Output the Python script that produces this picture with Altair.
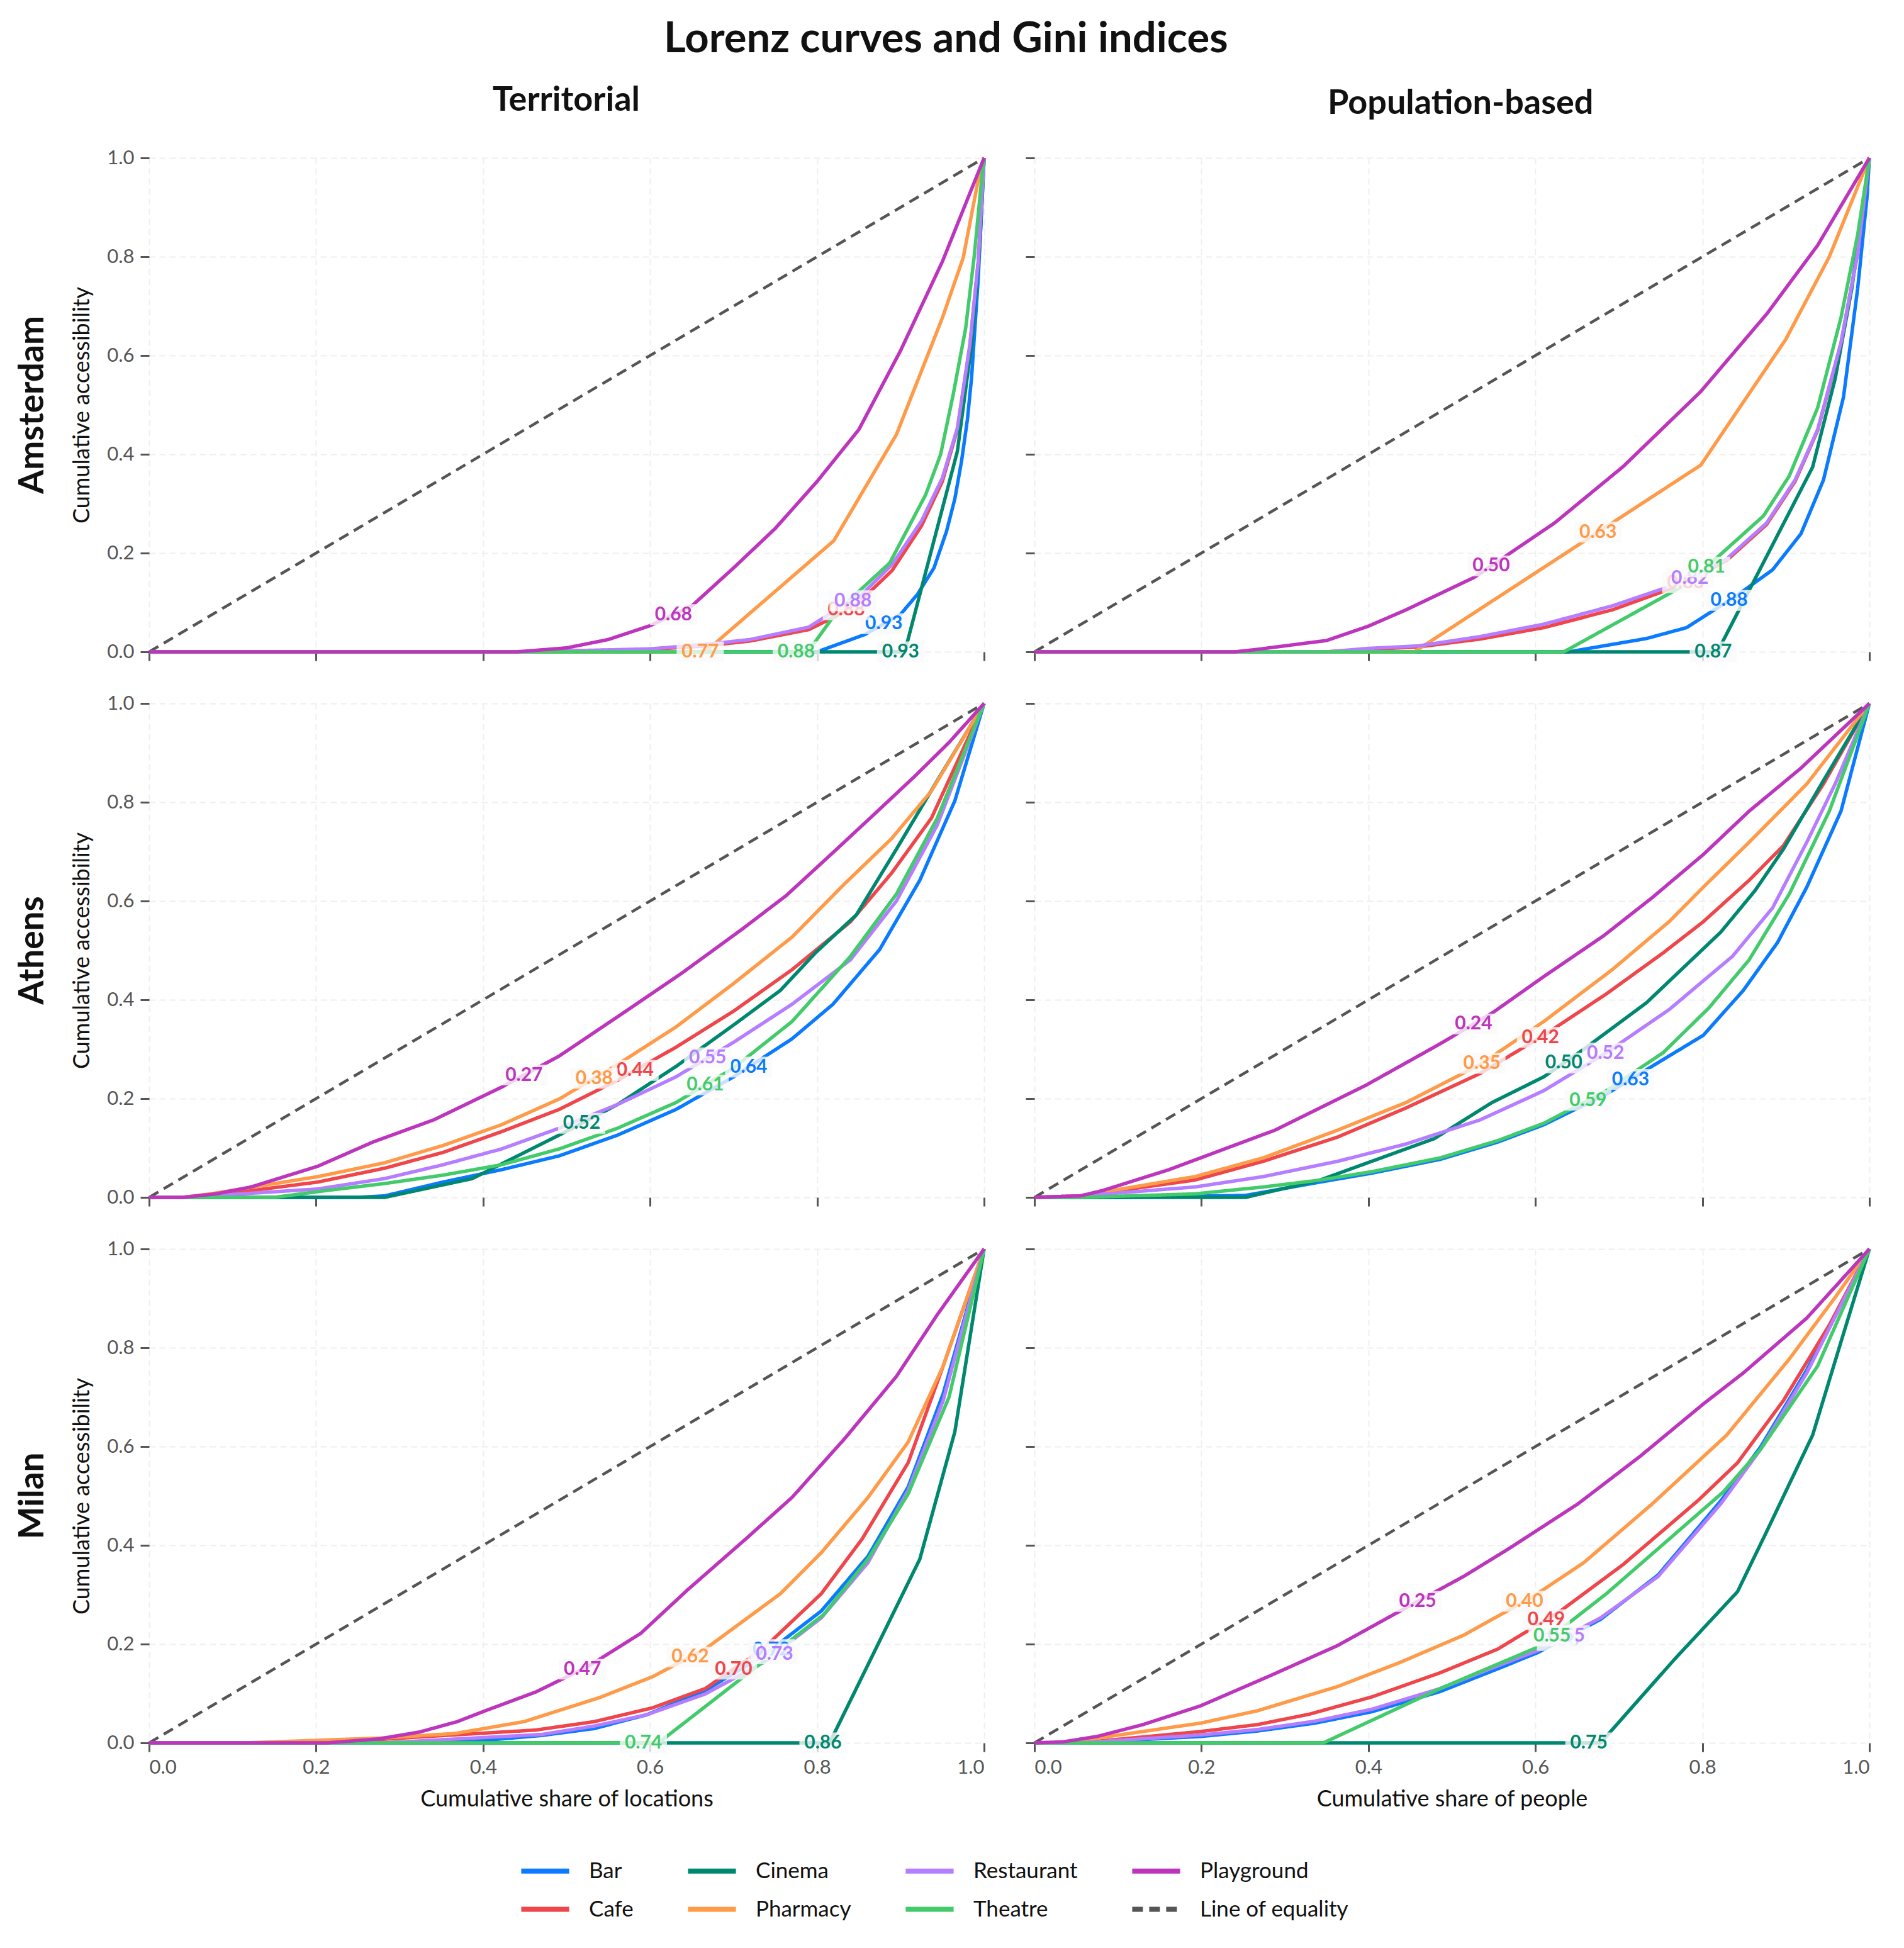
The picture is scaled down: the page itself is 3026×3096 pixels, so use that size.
import altair as alt
import pandas as pd
import numpy as np

SERIES = ["Bar", "Cafe", "Cinema", "Pharmacy", "Restaurant", "Theatre", "Playground"]
COLORS = ["#0A7BFF", "#EF464B", "#00876F", "#FF9A48", "#B57DFF", "#43CB6B", "#BD35BD"]
EQUALITY = "Line of equality"
EQ_COLOR = "#555555"
CITIES = ["Amsterdam", "Athens", "Milan"]
KINDS = ["Territorial", "Population-based"]
X_TITLES = {"Territorial": "Cumulative share of locations",
            "Population-based": "Cumulative share of people"}
TICKS = [0.0, 0.2, 0.4, 0.6, 0.8, 1.0]

# ---- Lorenz curves: series -> (x list, y list) ----
AMS_TER = {
    "Bar": ([0, 0.80, 0.857, 0.90, 0.92, 0.94, 0.955, 0.965, 0.973, 0.98, 0.985, 0.993, 1.0],
            [0, 0, 0.035, 0.076, 0.116, 0.17, 0.244, 0.31, 0.386, 0.47, 0.555, 0.757, 1.0]),
    "Cafe": ([0, 0.45, 0.60, 0.666, 0.72, 0.79, 0.82, 0.85, 0.89, 0.925, 0.95, 0.968, 0.983, 0.993, 1.0],
             [0, 0, 0.005, 0.012, 0.022, 0.045, 0.07, 0.10, 0.165, 0.255, 0.345, 0.45, 0.62, 0.79, 1.0]),
    "Cinema": ([0, 0.905, 0.968, 0.985, 0.995, 1.0],
               [0, 0, 0.406, 0.622, 0.825, 1.0]),
    "Pharmacy": ([0, 0.666, 0.82, 0.895, 0.95, 0.975, 0.995, 1.0],
                 [0, 0, 0.225, 0.44, 0.676, 0.798, 0.973, 1.0]),
    "Restaurant": ([0, 0.45, 0.60, 0.666, 0.72, 0.79, 0.82, 0.85, 0.89, 0.925, 0.95, 0.968, 0.983, 0.993, 1.0],
                   [0, 0, 0.006, 0.015, 0.025, 0.05, 0.082, 0.11, 0.177, 0.265, 0.352, 0.453, 0.622, 0.79, 1.0]),
    "Theatre": ([0, 0.789, 0.824, 0.887, 0.93, 0.948, 0.963, 0.978, 0.988, 0.998, 1.0],
                [0, 0, 0.082, 0.18, 0.318, 0.40, 0.521, 0.656, 0.798, 0.973, 1.0]),
    "Playground": ([0, 0.44, 0.50, 0.55, 0.60, 0.65, 0.70, 0.75, 0.80, 0.85, 0.90, 0.95, 1.0],
                   [0, 0, 0.008, 0.025, 0.053, 0.093, 0.17, 0.25, 0.345, 0.45, 0.61, 0.79, 1.0]),
}
AMS_POP = {
    "Bar": ([0, 0.64, 0.733, 0.781, 0.842, 0.884, 0.918, 0.945, 0.969, 0.986, 0.997, 1.0],
            [0, 0, 0.027, 0.049, 0.115, 0.166, 0.239, 0.348, 0.516, 0.736, 0.918, 1.0]),
    "Cafe": ([0, 0.35, 0.40, 0.46, 0.534, 0.61, 0.692, 0.774, 0.829, 0.877, 0.911, 0.938, 0.966, 0.986, 1.0],
             [0, 0, 0.005, 0.01, 0.026, 0.049, 0.085, 0.135, 0.185, 0.258, 0.345, 0.448, 0.625, 0.808, 1.0]),
    "Cinema": ([0, 0.818, 0.932, 0.959, 0.979, 1.0],
               [0, 0, 0.374, 0.553, 0.736, 1.0]),
    "Pharmacy": ([0, 0.455, 0.798, 0.90, 0.952, 1.0],
                 [0, 0, 0.378, 0.633, 0.80, 1.0]),
    "Restaurant": ([0, 0.35, 0.40, 0.46, 0.534, 0.61, 0.692, 0.774, 0.829, 0.877, 0.911, 0.938, 0.966, 0.986, 1.0],
                   [0, 0, 0.007, 0.012, 0.031, 0.056, 0.093, 0.14, 0.188, 0.261, 0.348, 0.45, 0.626, 0.808, 1.0]),
    "Theatre": ([0, 0.634, 0.784, 0.873, 0.904, 0.938, 0.966, 0.986, 1.0],
                [0, 0, 0.14, 0.275, 0.356, 0.494, 0.677, 0.845, 1.0]),
    "Playground": ([0, 0.24, 0.267, 0.35, 0.40, 0.445, 0.527, 0.623, 0.705, 0.798, 0.877, 0.938, 1.0],
                   [0, 0, 0.005, 0.023, 0.052, 0.085, 0.151, 0.261, 0.375, 0.527, 0.684, 0.823, 1.0]),
}
ATH_TER = {
    "Bar": ([0, 0.25, 0.282, 0.352, 0.422, 0.491, 0.561, 0.631, 0.70, 0.77, 0.819, 0.875, 0.923, 0.965, 1.0],
            [0, 0, 0.003, 0.031, 0.056, 0.084, 0.126, 0.178, 0.244, 0.321, 0.391, 0.502, 0.642, 0.803, 1.0]),
    "Cafe": ([0, 0.06, 0.202, 0.282, 0.352, 0.422, 0.491, 0.561, 0.631, 0.70, 0.77, 0.84, 0.889, 0.937, 1.0],
             [0, 0, 0.031, 0.059, 0.091, 0.133, 0.178, 0.237, 0.304, 0.377, 0.461, 0.558, 0.656, 0.768, 1.0]),
    "Cinema": ([0, 0.282, 0.387, 0.491, 0.561, 0.631, 0.70, 0.756, 0.798, 0.847, 0.895, 0.944, 1.0],
               [0, 0, 0.038, 0.126, 0.188, 0.265, 0.349, 0.419, 0.495, 0.572, 0.705, 0.844, 1.0]),
    "Pharmacy": ([0, 0.04, 0.073, 0.136, 0.202, 0.282, 0.352, 0.422, 0.491, 0.561, 0.631, 0.70, 0.77, 0.833, 0.889, 0.937, 1.0],
                 [0, 0, 0.007, 0.024, 0.042, 0.07, 0.105, 0.147, 0.199, 0.269, 0.345, 0.433, 0.527, 0.635, 0.726, 0.823, 1.0]),
    "Restaurant": ([0, 0.04, 0.073, 0.202, 0.282, 0.352, 0.422, 0.491, 0.561, 0.631, 0.70, 0.77, 0.84, 0.895, 0.944, 1.0],
                   [0, 0, 0.003, 0.017, 0.038, 0.066, 0.098, 0.14, 0.188, 0.244, 0.314, 0.391, 0.481, 0.60, 0.754, 1.0]),
    "Theatre": ([0, 0.15, 0.213, 0.282, 0.352, 0.422, 0.491, 0.561, 0.631, 0.70, 0.77, 0.84, 0.895, 0.944, 1.0],
                [0, 0, 0.014, 0.028, 0.045, 0.066, 0.098, 0.14, 0.192, 0.262, 0.356, 0.488, 0.614, 0.768, 1.0]),
    "Playground": ([0, 0.04, 0.08, 0.122, 0.202, 0.268, 0.341, 0.422, 0.491, 0.571, 0.638, 0.711, 0.763, 0.819, 0.868, 0.916, 0.958, 1.0],
                   [0, 0, 0.007, 0.021, 0.063, 0.112, 0.157, 0.223, 0.286, 0.377, 0.454, 0.544, 0.611, 0.698, 0.775, 0.851, 0.921, 1.0]),
}
ATH_POP = {
    "Bar": ([0, 0.10, 0.253, 0.342, 0.404, 0.486, 0.555, 0.61, 0.685, 0.753, 0.801, 0.849, 0.89, 0.925, 0.966, 1.0],
            [0, 0, 0.004, 0.031, 0.049, 0.077, 0.112, 0.147, 0.209, 0.279, 0.328, 0.419, 0.516, 0.628, 0.782, 1.0]),
    "Cafe": ([0, 0.055, 0.192, 0.274, 0.363, 0.445, 0.534, 0.61, 0.685, 0.753, 0.801, 0.856, 0.897, 0.945, 1.0],
             [0, 0.003, 0.035, 0.073, 0.122, 0.181, 0.251, 0.328, 0.412, 0.495, 0.558, 0.642, 0.712, 0.837, 1.0]),
    "Cinema": ([0, 0.253, 0.342, 0.404, 0.479, 0.548, 0.61, 0.658, 0.733, 0.822, 0.863, 0.897, 0.945, 1.0],
               [0, 0, 0.035, 0.073, 0.119, 0.192, 0.244, 0.30, 0.394, 0.537, 0.621, 0.705, 0.844, 1.0]),
    "Pharmacy": ([0, 0.055, 0.192, 0.274, 0.363, 0.445, 0.534, 0.61, 0.692, 0.76, 0.801, 0.856, 0.925, 1.0],
                 [0, 0.003, 0.042, 0.08, 0.136, 0.192, 0.269, 0.356, 0.461, 0.558, 0.628, 0.719, 0.837, 1.0]),
    "Restaurant": ([0, 0.055, 0.192, 0.274, 0.363, 0.445, 0.534, 0.61, 0.685, 0.76, 0.836, 0.884, 0.925, 0.959, 1.0],
                   [0, 0.003, 0.021, 0.042, 0.073, 0.108, 0.157, 0.216, 0.293, 0.38, 0.488, 0.586, 0.719, 0.837, 1.0]),
    "Theatre": ([0, 0.055, 0.192, 0.274, 0.342, 0.404, 0.486, 0.555, 0.61, 0.685, 0.753, 0.808, 0.856, 0.904, 0.952, 1.0],
                [0, 0, 0.007, 0.021, 0.035, 0.052, 0.08, 0.115, 0.15, 0.216, 0.293, 0.384, 0.481, 0.614, 0.782, 1.0]),
    "Playground": ([0, 0.055, 0.082, 0.161, 0.288, 0.397, 0.486, 0.548, 0.61, 0.682, 0.74, 0.801, 0.856, 0.918, 1.0],
                   [0, 0.003, 0.014, 0.056, 0.136, 0.227, 0.311, 0.373, 0.447, 0.53, 0.607, 0.694, 0.782, 0.869, 1.0]),
}
MIL_TER = {
    "Bar": ([0, 0.28, 0.401, 0.47, 0.533, 0.596, 0.666, 0.735, 0.805, 0.861, 0.909, 0.951, 1.0],
            [0, 0, 0.005, 0.015, 0.029, 0.057, 0.106, 0.176, 0.267, 0.378, 0.518, 0.707, 1.0]),
    "Cafe": ([0, 0.213, 0.324, 0.463, 0.533, 0.603, 0.666, 0.735, 0.805, 0.854, 0.909, 0.951, 1.0],
             [0, 0, 0.012, 0.026, 0.043, 0.071, 0.11, 0.19, 0.302, 0.413, 0.567, 0.763, 1.0]),
    "Cinema": ([0, 0.815, 0.923, 0.965, 1.0],
               [0, 0, 0.372, 0.63, 1.0]),
    "Pharmacy": ([0, 0.115, 0.282, 0.366, 0.401, 0.449, 0.54, 0.603, 0.666, 0.756, 0.805, 0.861, 0.909, 0.951, 1.0],
                 [0, 0, 0.01, 0.019, 0.029, 0.043, 0.092, 0.134, 0.19, 0.302, 0.385, 0.497, 0.609, 0.763, 1.0]),
    "Restaurant": ([0, 0.28, 0.47, 0.533, 0.596, 0.666, 0.735, 0.805, 0.861, 0.909, 0.951, 1.0],
                   [0, 0, 0.017, 0.034, 0.057, 0.099, 0.162, 0.253, 0.365, 0.511, 0.693, 1.0]),
    "Theatre": ([0, 0.61, 0.808, 0.861, 0.909, 0.958, 1.0],
                [0, 0, 0.26, 0.372, 0.504, 0.70, 1.0]),
    "Playground": ([0, 0.213, 0.275, 0.324, 0.369, 0.401, 0.463, 0.526, 0.589, 0.645, 0.714, 0.77, 0.833, 0.895, 0.944, 1.0],
                   [0, 0, 0.008, 0.022, 0.043, 0.064, 0.103, 0.155, 0.222, 0.31, 0.412, 0.497, 0.616, 0.742, 0.867, 1.0]),
}
MIL_POP = {
    "Bar": ([0, 0.055, 0.199, 0.267, 0.336, 0.404, 0.486, 0.555, 0.603, 0.678, 0.747, 0.822, 0.87, 0.925, 1.0],
            [0, 0, 0.013, 0.024, 0.04, 0.063, 0.104, 0.15, 0.183, 0.25, 0.34, 0.49, 0.60, 0.755, 1.0]),
    "Cafe": ([0, 0.055, 0.199, 0.267, 0.329, 0.404, 0.486, 0.555, 0.63, 0.705, 0.795, 0.842, 0.897, 0.952, 1.0],
             [0, 0, 0.023, 0.037, 0.058, 0.093, 0.142, 0.19, 0.267, 0.361, 0.491, 0.567, 0.693, 0.846, 1.0]),
    "Cinema": ([0, 0.678, 0.767, 0.842, 0.877, 0.932, 0.966, 1.0],
               [0, 0, 0.17, 0.306, 0.428, 0.623, 0.812, 1.0]),
    "Pharmacy": ([0, 0.034, 0.089, 0.199, 0.267, 0.363, 0.438, 0.514, 0.596, 0.658, 0.74, 0.829, 0.904, 0.959, 1.0],
                 [0, 0, 0.013, 0.04, 0.065, 0.114, 0.163, 0.218, 0.295, 0.365, 0.484, 0.623, 0.777, 0.902, 1.0]),
    "Restaurant": ([0, 0.055, 0.199, 0.267, 0.336, 0.404, 0.486, 0.555, 0.603, 0.678, 0.747, 0.822, 0.87, 0.925, 1.0],
                   [0, 0, 0.016, 0.027, 0.044, 0.068, 0.11, 0.156, 0.187, 0.253, 0.337, 0.484, 0.595, 0.749, 1.0]),
    "Theatre": ([0, 0.346, 0.486, 0.603, 0.685, 0.825, 0.87, 0.938, 1.0],
                [0, 0, 0.11, 0.194, 0.302, 0.508, 0.595, 0.763, 1.0]),
    "Playground": ([0, 0.034, 0.075, 0.13, 0.199, 0.281, 0.363, 0.438, 0.514, 0.568, 0.651, 0.726, 0.801, 0.849, 0.925, 1.0],
                   [0, 0.002, 0.013, 0.037, 0.075, 0.135, 0.197, 0.267, 0.337, 0.393, 0.484, 0.581, 0.686, 0.749, 0.86, 1.0]),
}

# Gini indices (label text) and the x position along the curve where each label sits
GINI = {
    ("Amsterdam", "Territorial"): [0.93, 0.88, 0.93, 0.77, 0.88, 0.88, 0.68],
    ("Amsterdam", "Population-based"): [0.88, 0.83, 0.87, 0.63, 0.82, 0.81, 0.50],
    ("Athens", "Territorial"): [0.64, 0.44, 0.52, 0.38, 0.55, 0.61, 0.27],
    ("Athens", "Population-based"): [0.63, 0.42, 0.50, 0.35, 0.52, 0.59, 0.24],
    ("Milan", "Territorial"): [0.72, 0.70, 0.86, 0.62, 0.73, 0.74, 0.47],
    ("Milan", "Population-based"): [0.56, 0.49, 0.75, 0.40, 0.55, 0.55, 0.25],
}
LABEL_X = {
    ("Amsterdam", "Territorial"): [0.88, 0.835, 0.90, 0.66, 0.843, 0.775, 0.628],
    ("Amsterdam", "Population-based"): [0.832, 0.78, 0.813, 0.675, 0.785, 0.805, 0.547],
    ("Athens", "Territorial"): [0.718, 0.582, 0.518, 0.533, 0.669, 0.666, 0.449],
    ("Athens", "Population-based"): [0.714, 0.606, 0.634, 0.536, 0.684, 0.663, 0.526],
    ("Milan", "Territorial"): [0.745, 0.70, 0.807, 0.648, 0.749, 0.592, 0.519],
    ("Milan", "Population-based"): [0.63, 0.613, 0.664, 0.587, 0.637, 0.62, 0.459],
}
CURVES = {
    ("Amsterdam", "Territorial"): AMS_TER, ("Amsterdam", "Population-based"): AMS_POP,
    ("Athens", "Territorial"): ATH_TER, ("Athens", "Population-based"): ATH_POP,
    ("Milan", "Territorial"): MIL_TER, ("Milan", "Population-based"): MIL_POP,
}

FONT = "Lato"
W, H = 1327, 785
DOMAIN = SERIES + [EQUALITY]
LEGEND_ORDER = ["Bar", "Cinema", "Restaurant", "Playground", "Cafe", "Pharmacy", "Theatre", EQUALITY]
color_scale = alt.Scale(domain=LEGEND_ORDER,
                        range=[dict(zip(DOMAIN, COLORS + [EQ_COLOR]))[s] for s in LEGEND_ORDER])
dash_scale = alt.Scale(domain=LEGEND_ORDER,
                       range=[[17, 10] if s == EQUALITY else [1, 0] for s in LEGEND_ORDER])
fill_scale = alt.Scale(domain=SERIES, range=COLORS)
BOX_SHAPE = "M -1 -0.44 L 1 -0.44 L 1 0.44 L -1 0.44 Z"
LEGEND = alt.Legend(title=None, orient="none", legendX=587, legendY=2680, columns=4,
                    direction="horizontal")


def panel(city, kind, row, col):
    curves = CURVES[(city, kind)]
    gini = GINI[(city, kind)]
    labx = LABEL_X[(city, kind)]
    bottom = row == len(CITIES) - 1
    left = col == 0
    xax = alt.Axis(values=TICKS, format=".1f", labels=bottom,
                   title=X_TITLES[kind] if bottom else None, titlePadding=18)
    yax = alt.Axis(values=TICKS, format=".1f", labels=left,
                   title="Cumulative accessibility" if left else None, titlePadding=20)
    xs = alt.Scale(domain=[0, 1], nice=False)
    ys = alt.Scale(domain=[0, 1], nice=False)

    eq = pd.DataFrame({"x": [0.0, 1.0], "y": [0.0, 1.0], "series": [EQUALITY] * 2})
    line_layers = [
        alt.Chart(eq).mark_line(strokeWidth=4.5).encode(
            x=alt.X("x:Q", scale=xs, axis=xax),
            y=alt.Y("y:Q", scale=ys, axis=yax),
            color=alt.Color("series:N", scale=color_scale, legend=LEGEND),
            strokeDash=alt.StrokeDash("series:N", scale=dash_scale, legend=LEGEND),
        )
    ]
    label_layers = []
    for i, s in enumerate(SERIES):
        cx, cy = curves[s]
        df = pd.DataFrame({"x": cx, "y": cy, "series": s, "i": range(len(cx))})
        lx = labx[i]
        ly = float(np.interp(lx, cx, cy))
        lab = pd.DataFrame({"x": [lx], "y": [ly], "series": [s], "text": [f"{gini[i]:.2f}"]})
        line_layers.append(
            alt.Chart(df).mark_line(strokeWidth=5.5).encode(
                x=alt.X("x:Q", scale=xs, axis=xax),
                y=alt.Y("y:Q", scale=ys, axis=yax),
                order="i:Q",
                color=alt.Color("series:N", scale=color_scale, legend=LEGEND),
                strokeDash=alt.StrokeDash("series:N", scale=dash_scale, legend=LEGEND),
            )
        )
        label_layers.append(
            alt.Chart(lab).mark_point(shape=BOX_SHAPE, size=5600, filled=True,
                                      color="#fafafa", opacity=0.8).encode(
                x=alt.X("x:Q", scale=xs, axis=xax),
                y=alt.Y("y:Q", scale=ys, axis=yax),
            )
        )
        label_layers.append(
            alt.Chart(lab).mark_text(fontSize=30, fontWeight="bold", font=FONT,
                                     baseline="middle", align="center").encode(
                x=alt.X("x:Q", scale=xs, axis=xax),
                y=alt.Y("y:Q", scale=ys, axis=yax),
                text="text:N",
                fill=alt.Fill("series:N", scale=fill_scale, legend=None),
            )
        )
    ch = alt.layer(*(line_layers + label_layers)).properties(width=W, height=H)
    if left:
        ch = ch.properties(title=alt.TitleParams(city, orient="left", anchor="middle",
                                                 fontSize=55, fontWeight="bold",
                                                 font=FONT, color="#111111", offset=32))
    return ch


columns = []
for c, kind in enumerate(KINDS):
    col = alt.vconcat(*[panel(city, kind, r, c) for r, city in enumerate(CITIES)],
                      spacing=82, bounds="flush").properties(
        title=alt.TitleParams(kind, anchor="middle", fontSize=54, fontWeight="bold",
                              font=FONT, color="#111111", offset=48,
                              dx=100 if c == 0 else 16))
    columns.append(col)

chart = alt.hconcat(*columns, spacing=53).properties(
    background="white",
    padding={"left": 16, "top": 21, "right": 5, "bottom": 5},
    title=alt.TitleParams("Lorenz curves and Gini indices", anchor="middle", fontSize=67,
                          fontWeight="bold", font=FONT, color="#111111", offset=36)
).configure_view(stroke=None).configure_axis(
    domain=False, tickColor="#555555", tickSize=14, tickWidth=3,
    labelFont=FONT, labelFontSize=31, labelColor="#555555", labelPadding=10,
    titleFont=FONT, titleFontSize=36, titleFontWeight="normal", titleColor="#111111",
    gridColor="#efefef", gridDash=[10, 6], gridWidth=2,
).configure_legend(
    symbolType="stroke", symbolStrokeWidth=8, symbolSize=5800,
    labelFont=FONT, labelFontSize=35, labelColor="#111111", labelLimit=0,
    columnPadding=70, rowPadding=-21, labelOffset=27,
)

chart.save("out.html", embed_options={"renderer": "svg", "actions": False})
